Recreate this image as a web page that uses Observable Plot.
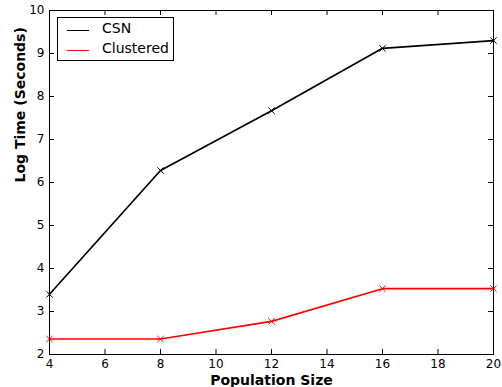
<!DOCTYPE html>
<html>
<head>
<meta charset="utf-8">
<script src="https://cdn.jsdelivr.net/npm/d3@7"></script>
<script src="https://cdn.jsdelivr.net/npm/@observablehq/plot@0.6"></script>
<style>
  html, body { margin: 0; padding: 0; background: #fff; }
  #wrap { position: relative; width: 502px; height: 387px; }
  #legend { position: absolute; left: 57px; top: 17px; width: 115px; height: 42px;
    border: 1px solid #000; background: #fff; font-family: "DejaVu Sans", sans-serif; font-size: 14px; }
  .row { position: absolute; left: 0; height: 20px; }
  .sw { position: absolute; left: 9px; width: 22px; height: 0; border-top: 1.7px solid; }
  .lab { position: absolute; left: 44px; }
</style>
</head>
<body>
<div id="wrap"></div>
<script>
const populationSize = [4, 8, 12, 16, 20];
const csnTime = [3.40, 6.28, 7.67, 9.12, 9.30];
const clusteredTime = [2.36, 2.36, 2.77, 3.53, 3.53];
const seriesNames = ["CSN", "Clustered"];
const seriesColors = ["#000000", "#ff0000"];
const xTicks = [4, 6, 8, 10, 12, 14, 16, 18, 20];
const yTicks = [2, 3, 4, 5, 6, 7, 8, 9, 10];

const data = [];
populationSize.forEach((p, i) => data.push({series: seriesNames[0], x: p, y: csnTime[i]}));
populationSize.forEach((p, i) => data.push({series: seriesNames[1], x: p, y: clusteredTime[i]}));

const W = 502, H = 387, mt = 10, mr = 9, mb = 33, ml = 49;
const ph = H - mt - mb, pw = W - ml - mr, tk = 5;

const chart = Plot.plot({
  width: W, height: H,
  marginTop: mt, marginRight: mr, marginBottom: mb, marginLeft: ml,
  style: {fontFamily: "DejaVu Sans, sans-serif", fontSize: "12px", color: "#000", background: "#fff"},
  x: {domain: [4, 20], ticks: xTicks, tickSize: 0, tickPadding: 5, label: null},
  y: {domain: [2, 10], ticks: yTicks, tickSize: 0, tickPadding: 5, label: null},
  color: {domain: seriesNames, range: seriesColors},
  marks: [
    Plot.tickX(xTicks, {x: d => d, stroke: "#000", insetTop: ph - tk}),
    Plot.tickX(xTicks, {x: d => d, stroke: "#000", insetBottom: ph - tk}),
    Plot.tickY(yTicks, {y: d => d, stroke: "#000", insetRight: pw - tk}),
    Plot.tickY(yTicks, {y: d => d, stroke: "#000", insetLeft: pw - tk}),
    Plot.line(data, {x: "x", y: "y", z: "series", stroke: "series", strokeWidth: 1.7}),
    Plot.dot(data, {x: "x", y: "y", stroke: "series", symbol: "times", r: 3, strokeWidth: 1}),
    Plot.frame({stroke: "#000", strokeWidth: 1}),
    Plot.text(["Population Size"], {frameAnchor: "bottom", lineAnchor: "middle", dy: 26, text: d => d, fontWeight: "bold", fontSize: 14}),
    Plot.text(["Log Time (Seconds)"], {frameAnchor: "left", lineAnchor: "middle", dx: -29, rotate: -90, text: d => d, fontWeight: "bold", fontSize: 14})
  ]
});
const wrap = document.getElementById("wrap");
wrap.appendChild(chart);

const leg = document.createElement("div");
leg.id = "legend";
seriesNames.forEach((name, i) => {
  const row = document.createElement("div");
  row.className = "row";
  row.style.top = (i * 20 + 2) + "px";
  const sw = document.createElement("div");
  sw.className = "sw";
  sw.style.top = "10px";
  sw.style.borderColor = seriesColors[i];
  const lab = document.createElement("div");
  lab.className = "lab";
  lab.textContent = name;
  row.appendChild(sw); row.appendChild(lab);
  leg.appendChild(row);
});
wrap.appendChild(leg);
</script>
</body>
</html>
